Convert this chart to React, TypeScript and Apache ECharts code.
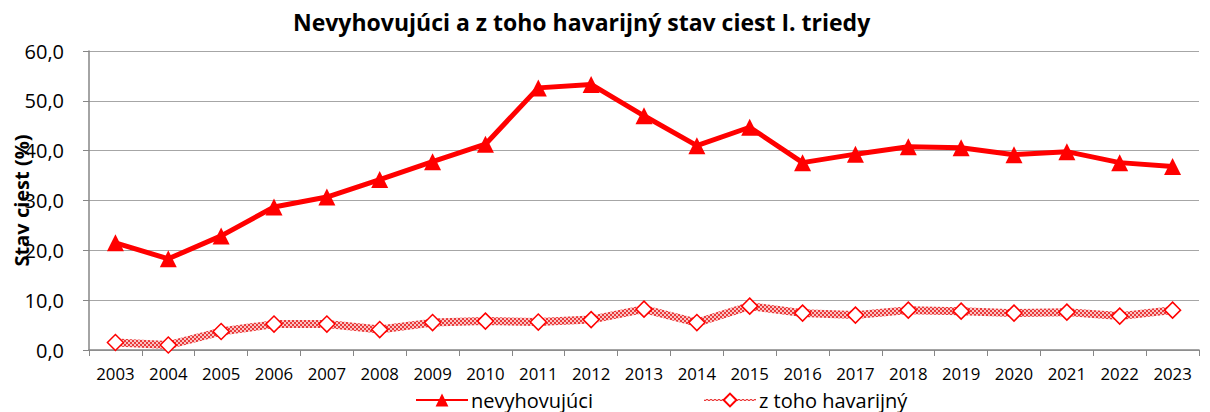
import React, { useEffect, useRef } from "react";
import * as echarts from "echarts";

const years = ["2003","2004","2005","2006","2007","2008","2009","2010","2011","2012","2013","2014","2015","2016","2017","2018","2019","2020","2021","2022","2023"];
const nevyhovujuci = [21.5,18.3,22.9,28.7,30.7,34.2,37.8,41.3,52.6,53.3,47.0,41.0,44.7,37.6,39.3,40.8,40.6,39.2,39.8,37.6,36.8];
const havarijny = [1.5,1.0,3.7,5.2,5.2,4.1,5.5,5.8,5.6,6.1,8.2,5.5,8.8,7.4,7.0,8.0,7.8,7.4,7.6,6.8,8.0];
const titleText = "Nevyhovujúci a z toho havarijný stav ciest I. triedy";
const yName = "Stav ciest (%)";

const checker =
  "data:image/svg+xml;utf8," +
  encodeURIComponent(
    "<svg xmlns='http://www.w3.org/2000/svg' width='4' height='4'><rect width='4' height='4' fill='#f9c4c4'/><rect width='2' height='2' fill='#ea3a3a'/><rect x='2' y='2' width='2' height='2' fill='#ea3a3a'/></svg>"
  );

export default function App() {
  const ref = useRef<HTMLDivElement>(null);
  useEffect(() => {
    document.body.style.margin = "0";
    if (!ref.current) return;
    const chart = echarts.init(ref.current, undefined, { renderer: "svg" });
    const font = "Open Sans, Noto Sans, sans-serif";
    chart.setOption({
      animation: false,
      textStyle: { fontFamily: font },
      title: {
        text: titleText,
        left: 288,
        top: 5,
        textStyle: { fontSize: 23, fontWeight: "bold", color: "#000", fontFamily: font },
      },
      grid: { left: 89, right: 11, top: 51, bottom: 62, outerBoundsMode: "none" } as any,
      legend: {
        top: 385,
        left: 410,
        itemWidth: 52,
        itemHeight: 16,
        itemGap: 110,
        textStyle: { fontSize: 20, color: "#000", fontFamily: font, padding: [0, 0, 0, -2] },
        data: [
          { name: "nevyhovujúci" },
          { name: "z toho havarijný" },
        ],
      },
      xAxis: {
        type: "category",
        data: years,
        boundaryGap: true,
        axisLine: { lineStyle: { color: "#868686", width: 1.5 } },
        axisTick: { show: true, length: 6, lineStyle: { color: "#868686" } },
        axisLabel: { color: "#000", fontSize: 16.8, margin: 15 },
      },
      yAxis: {
        type: "value",
        min: 0,
        max: 60,
        interval: 10,
        name: yName,
        nameLocation: "middle",
        nameGap: 58,
        nameMoveOverlap: false,
        nameTextStyle: { fontSize: 20, fontWeight: "bold", color: "#000" },
        axisLine: { show: true, lineStyle: { color: "#868686", width: 1.5 } },
        axisTick: { show: true, length: 6, lineStyle: { color: "#868686" } },
        axisLabel: {
          color: "#000",
          fontSize: 20,
          margin: 25,
          formatter: (v: number) => v.toFixed(1).replace(".", ","),
        },
        splitLine: { lineStyle: { color: "#a6a6a6", width: 1.2 } },
      } as any,
      series: [
        {
          name: "nevyhovujúci",
          type: "line",
          data: nevyhovujuci,
          symbol: "triangle",
          symbolSize: 17,
          itemStyle: { color: "#ff0000" },
          lineStyle: { color: "#ff0000", width: 5 },
          z: 3,
        },
        {
          name: "z toho havarijný",
          type: "line",
          data: havarijny,
          symbol: "diamond",
          symbolSize: 16,
          itemStyle: { color: "#fff", borderColor: "#ff0000", borderWidth: 1.5 },
          lineStyle: {
            width: 8,
            color: { image: checker, repeat: "repeat" } as any,
          },
          z: 2,
        },
      ],
    });
    return () => chart.dispose();
  }, []);
  return <div ref={ref} style={{ width: 1210, height: 412 }} />;
}
